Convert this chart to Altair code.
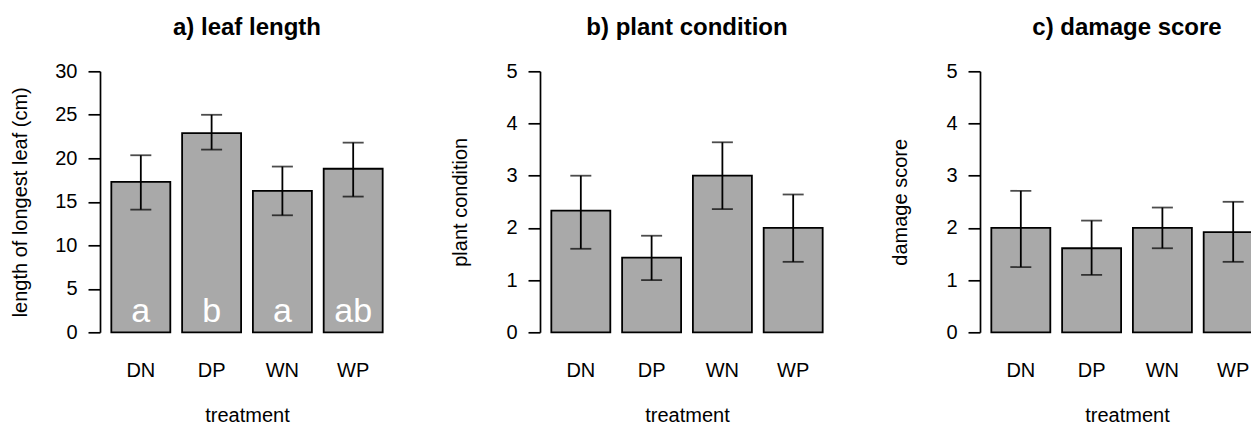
import altair as alt
import pandas as pd

FONT = "Liberation Sans"

treatments = ["DN", "DP", "WN", "WP"]

# a) leaf length
leaf_mean = [17.3, 22.9, 16.25, 18.8]
leaf_lower = [14.1, 21.0, 13.45, 15.6]
leaf_upper = [20.35, 25.0, 19.05, 21.8]
leaf_letters = ["a", "b", "a", "ab"]

# b) plant condition
cond_mean = [2.33, 1.43, 3.0, 2.0]
cond_lower = [1.6, 1.0, 2.36, 1.35]
cond_upper = [3.0, 1.85, 3.64, 2.64]

# c) damage score
dmg_mean = [2.0, 1.61, 2.0, 1.92]
dmg_lower = [1.25, 1.1, 1.61, 1.35]
dmg_upper = [2.71, 2.14, 2.39, 2.5]

PLOT_W = 294
PLOT_H = 261


def panel(title, ytitle, mean, lower, upper, ymax, ystep, letters=None):
    df = pd.DataFrame({"treatment": treatments, "mean": mean,
                       "lower": lower, "upper": upper})
    if letters is not None:
        df["letter"] = letters
    xscale = alt.Scale(paddingInner=0.1667, paddingOuter=0.16)
    x = alt.X("treatment:N", sort=treatments, scale=xscale,
              axis=alt.Axis(title="treatment", domain=False, ticks=False, tickSize=0,
                            labelAngle=0, labelFont=FONT, labelFontSize=20,
                            labelColor="black", labelBaseline="alphabetic",
                            labelPadding=43.7, titleFont=FONT, titleFontSize=20,
                            titleFontWeight="normal", titleColor="black",
                            titleBaseline="alphabetic", titleY=89.2))
    yscale = alt.Scale(domain=[0, ymax], nice=False, zero=True)
    yaxis = alt.Axis(title=ytitle, values=list(range(0, ymax + 1, ystep)), grid=False,
                     domainColor="black", domainWidth=1.7, tickColor="black",
                     tickWidth=1.7, tickSize=12, labelPadding=11, labelFont=FONT,
                     labelFontSize=20, labelColor="black", labelBaseline="middle",
                     titleFont=FONT, titleFontSize=20, titleFontWeight="normal",
                     titleColor="black", titleX=-74, titleY=PLOT_H / 2,
                     titleAngle=270, titleBaseline="alphabetic", titleAlign="center")
    base = alt.Chart(df)
    bars = base.mark_bar(fill="#A9A9A9", stroke="black", strokeWidth=1.8).encode(
        x=x, y=alt.Y("mean:Q", scale=yscale, axis=yaxis, title=ytitle))
    xs = alt.X("treatment:N", sort=treatments)
    rule = base.mark_rule(color="black", strokeWidth=1.8).encode(
        x=xs, y=alt.Y("lower:Q", title=ytitle), y2="upper:Q")
    cap_lo = base.mark_tick(color="black", size=21, thickness=1.8).encode(
        x=xs, y=alt.Y("lower:Q", title=ytitle))
    cap_hi = base.mark_tick(color="black", size=21, thickness=1.8).encode(
        x=xs, y=alt.Y("upper:Q", title=ytitle))
    layers = [bars, rule, cap_lo, cap_hi]
    if letters is not None:
        txt = base.mark_text(color="white", font=FONT, fontSize=34,
                             baseline="alphabetic", dy=-10).encode(
            x=xs, y=alt.datum(0), text="letter:N")
        layers.append(txt)
    return alt.layer(*layers).properties(
        width=PLOT_W, height=PLOT_H,
        title=alt.TitleParams(title, font=FONT, fontSize=24, fontWeight="bold",
                              color="black", anchor="middle", frame="group",
                              baseline="alphabetic", offset=2))


pa = panel("a) leaf length", "length of longest leaf (cm)",
           leaf_mean, leaf_lower, leaf_upper, 30, 5, leaf_letters)
pb = panel("b) plant condition", "plant condition",
           cond_mean, cond_lower, cond_upper, 5, 1)
pc = panel("c) damage score", "damage score",
           dmg_mean, dmg_lower, dmg_upper, 5, 1)

chart = alt.hconcat(pa, pb, pc, spacing=146, bounds="flush").properties(
    autosize=alt.AutoSizeParams(type="none"),
    padding={"left": 100, "top": 71.3, "right": 1151, "bottom": 353.7},
    background="white",
).configure_view(stroke=None)

chart.save("out.html", embed_options={"renderer": "svg", "actions": False})
